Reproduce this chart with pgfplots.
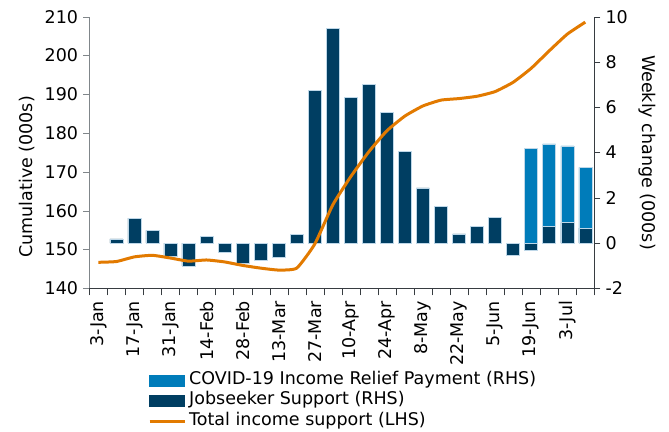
\documentclass[border=0pt]{standalone}
\usepackage{fontspec}
\setmainfont{DejaVu Sans}
\usepackage{pgfplots}
\pgfplotsset{compat=1.18}

\definecolor{jsnavy}{RGB}{0,62,98}
\definecolor{reliefblue}{RGB}{0,124,186}
\definecolor{totalorange}{RGB}{226,122,0}
\definecolor{baredge}{RGB}{190,215,232}
\definecolor{leftaxis}{RGB}{128,134,138}
\definecolor{darkaxis}{RGB}{55,60,65}

\pgfplotsset{
  shared/.style={
    scale only axis, width=505bp, height=271.6bp,
    xmin=-0.5, xmax=27.5,
    tick align=outside, major tick length=6bp, minor tick length=7bp,
    /pgf/number format/assume math mode=true,
    yticklabel style={inner xsep=5bp},
  },
}

\begin{document}
\begin{tikzpicture}[font=\fontsize{17.5bp}{21bp}\selectfont]
% weekly changes (RHS)
\begin{axis}[shared, name=bars,
    axis x line*=bottom, axis y line*=right,
    axis line style={darkaxis}, tick style={darkaxis},
    ymin=-2, ymax=10, ytick={-2,0,...,10},
    xtick={0,2,...,26},
    xticklabels={3-Jan,17-Jan,31-Jan,14-Feb,28-Feb,13-Mar,27-Mar,10-Apr,24-Apr,8-May,22-May,5-Jun,19-Jun,3-Jul},
    major x tick style={draw=none},
    minor xtick={-0.5,0.5,...,27.5},
    x tick label style={rotate=90, anchor=east, inner xsep=6.5bp},
    ylabel={Weekly change (000s)},
    ylabel style={at={(axis description cs:1.1044,0.5)}, anchor=center, rotate=180},
  ]
  \addplot[ybar, bar width=13bp, bar shift=0pt, fill=reliefblue, draw=baredge, line width=0.5bp]
    coordinates {(24,4.18) (25,4.38) (26,4.29) (27,3.34)};
  \addplot[ybar, bar width=13bp, bar shift=0pt, fill=jsnavy, draw=baredge, line width=0.5bp]
    coordinates {(1,0.18) (2,1.10) (3,0.56) (4,-0.60) (5,-1.01) (6,0.31) (7,-0.41)
      (8,-0.90) (9,-0.76) (10,-0.62) (11,0.38) (12,6.75) (13,9.49) (14,6.45)
      (15,7.00) (16,5.76) (17,4.04) (18,2.44) (19,1.62) (20,0.41) (21,0.74)
      (22,1.12) (23,-0.56) (24,-0.34) (25,0.72) (26,0.90) (27,0.66)};
\end{axis}
% cumulative total (LHS)
\begin{axis}[shared,
    axis x line=none, axis y line*=left,
    axis line style={leftaxis}, tick style={leftaxis},
    ymin=140, ymax=210, ytick={140,150,...,210},
    ylabel={Cumulative (000s)},
    ylabel style={at={(axis description cs:-0.123,0.41)}, anchor=center},
    legend cell align=left,
    legend style={at={(axis description cs:0.1162,-0.3008)}, anchor=north west,
      draw=none, fill=none, inner sep=0pt, row sep=0pt, column sep=0pt,
      nodes={inner xsep=3bp, inner ysep=0pt, text height=14bp, text depth=6.5bp}},
  ]
  \addlegendimage{legend image code/.code={\fill[reliefblue] (0bp,-5.5bp) rectangle (35bp,5.5bp);}}
  \addlegendentry{COVID-19 Income Relief Payment (RHS)}
  \addlegendimage{legend image code/.code={\fill[jsnavy] (0bp,-5.5bp) rectangle (35bp,5.5bp);}}
  \addlegendentry{Jobseeker Support (RHS)}
  \addplot[totalorange, line width=3bp, line join=round, smooth, tension=0.3,
    legend image code/.code={\draw[totalorange, line width=3bp] (0bp,0bp) -- (35bp,0bp);}]
    coordinates {(0,146.7) (1,146.9) (2,148.1) (3,148.5) (4,147.8) (5,147.0) (6,147.3)
      (7,146.8) (8,145.9) (9,145.2) (10,144.7) (11,145.2) (12,151.4) (13,161.5)
      (14,168.8) (15,175.2) (16,180.6) (17,184.4) (18,187.0) (19,188.5) (20,188.9)
      (21,189.5) (22,190.7) (23,193.1) (24,196.7) (25,201.2) (26,205.5) (27,208.6)};
  \addlegendentry{Total income support (LHS)}
\end{axis}
\pgfresetboundingbox
\path[use as bounding box] ([shift={(-89.3bp,-143.7bp)}]bars.south west)
  rectangle ([shift={(74.7bp,16.7bp)}]bars.north east);
\end{tikzpicture}
\end{document}
